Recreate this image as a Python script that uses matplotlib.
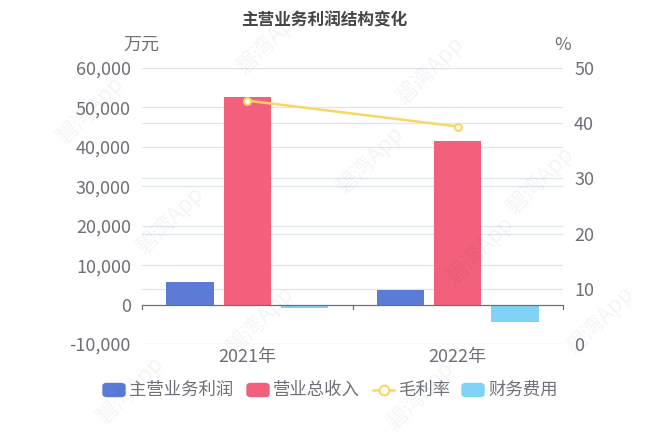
import numpy as np
import matplotlib.pyplot as plt
from matplotlib.patches import FancyBboxPatch
from matplotlib.lines import Line2D

plt.rcParams['font.family'] = ['Noto Sans CJK SC', 'DejaVu Sans']

years = ['2021年', '2022年']
main_profit = [5850, 3600]        # 主营业务利润 (万元)
revenue = [52650, 41450]          # 营业总收入 (万元)
fin_cost = [-800, -4300]          # 财务费用 (万元)
gross_margin = [44.1, 39.4]       # 毛利率 (%)

c_blue = '#5b7bd6'
c_red = '#f2607b'
c_cyan = '#80d3f5'
c_yellow = '#fbd661'
c_text = '#6e7079'
c_grid = '#e0e6f1'

fig = plt.figure(figsize=(6.48, 4.32), dpi=100)
ax = fig.add_axes([142/648, 1-344/432, (563-142)/648, (344-68)/432])
ax2 = ax.twinx()

x = np.arange(len(years))
w = 0.224
step = 0.272
ax.bar(x - step, main_profit, w, color=c_blue, zorder=3)
ax.bar(x, revenue, w, color=c_red, zorder=3)
ax.bar(x + step, fin_cost, w, color=c_cyan, zorder=3)

ax.set_xlim(-0.5, 1.5)
ax.set_ylim(-10000, 60000)
ax.set_yticks(np.arange(-10000, 60001, 10000))
ax.set_yticklabels([f'{v:,}' for v in range(-10000, 60001, 10000)])
ax.set_xticks(x)
ax.set_xticklabels(years)
for v in range(-10000, 60001, 10000):
    if v != 0:
        ax.axhline(v, color=c_grid, lw=0.9, zorder=0)
# right-axis grid drawn on the left axes so it stays behind the bars
for p in range(0, 51, 10):
    ax.axhline(-10000 + p / 50 * 70000, color=c_grid, lw=0.9, zorder=0)
ax.axhline(0, color='#6e7079', lw=0.9, zorder=4)
for b in [-0.5, 0.5, 1.5]:
    ax.plot([b, b], [0, -1200], color='#6e7079', lw=0.9, zorder=4, clip_on=False)

ax2.set_ylim(0, 50)
ax2.set_yticks(np.arange(0, 51, 10))
ax2.plot(x, gross_margin, color=c_yellow, lw=1.8, marker='o', ms=5,
         mfc='white', mec=c_yellow, mew=1.5, zorder=5)

for a in (ax, ax2):
    for s in a.spines.values():
        s.set_visible(False)
    a.tick_params(length=0, labelsize=13, colors=c_text)
ax.tick_params(axis='y', pad=8)
ax2.tick_params(axis='y', pad=8)
ax.tick_params(axis='x', pad=3)

fig.text(141/648, 1-45/432, '万元', fontsize=13, color=c_text, ha='center', va='center')
fig.text(563/648, 1-45/432, '%', fontsize=13, color=c_text, ha='center', va='center')
fig.text(0.5, 1-20/432, '主营业务利润结构变化', fontsize=12, fontweight='bold',
         color='#464646', ha='center', va='center')

# watermark
for wx, wy in [(90, 110), (270, 40), (430, 70), (170, 220), (370, 160),
               (540, 180), (260, 320), (480, 250), (600, 320), (130, 390), (420, 395)]:
    fig.text(wx/648, 1-wy/432, '碧湾App', fontsize=16, color='#000000', alpha=0.045,
             rotation=45, ha='center', va='center')

# legend
ly = 1-390/432
items = [(c_blue, '主营业务利润', 103), (c_red, '营业总收入', 247),
         (c_yellow, '毛利率', 373), (c_cyan, '财务费用', 462)]
for col, lab, px in items:
    if lab == '毛利率':
        fig.add_artist(Line2D([px/648, (px+21)/648], [ly, ly], color=col, lw=1.8))
        fig.add_artist(Line2D([(px+10.5)/648], [ly], marker='o', ms=7, mfc='white',
                              mec=col, mew=1.5))
    else:
        fig.add_artist(FancyBboxPatch((px/648, ly - 6.5/432), 22/648, 13/432,
                                      boxstyle='round,pad=0,rounding_size=0.006',
                                      color=col, transform=fig.transFigure))
    fig.text((px+26)/648, ly, lab, fontsize=12.5, color=c_text, ha='left', va='center')

fig.savefig('out.png', dpi=100)
